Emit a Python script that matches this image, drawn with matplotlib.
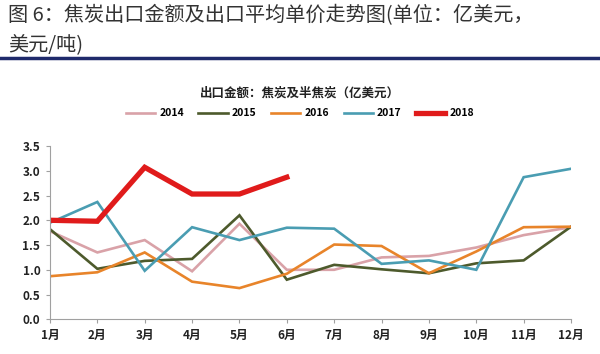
import numpy as np
import matplotlib.pyplot as plt

plt.rcParams['font.family'] = ['Noto Sans CJK SC', 'DejaVu Sans']

months = ["1月", "2月", "3月", "4月", "5月", "6月", "7月", "8月", "9月", "10月", "11月", "12月"]
v2014 = [1.78, 1.35, 1.60, 0.97, 1.93, 1.00, 1.00, 1.25, 1.28, 1.45, 1.70, 1.86]
v2015 = [1.82, 1.02, 1.18, 1.22, 2.10, 0.80, 1.10, 1.01, 0.93, 1.13, 1.19, 1.87]
v2016 = [0.87, 0.95, 1.35, 0.76, 0.63, 0.92, 1.51, 1.48, 0.93, 1.37, 1.86, 1.87]
v2017 = [1.95, 2.37, 0.98, 1.86, 1.60, 1.85, 1.83, 1.12, 1.19, 1.00, 2.87, 3.04]
v2018 = [2.00, 1.98, 3.07, 2.53, 2.53, 2.87]

series = [
	("2014", v2014, "#D9A2A8", 1.9),
	("2015", v2015, "#4D5A2C", 1.9),
	("2016", v2016, "#E8842A", 1.9),
	("2017", v2017, "#4A9DB2", 1.9),
	("2018", v2018, "#E01B1B", 3.8),
]

fig = plt.figure(figsize=(6, 3.54), dpi=100)

# page header
fig.text(0.013, 0.955, "图 6：焦炭出口金额及出口平均单价走势图(单位：亿美元，", fontsize=14.5, color="#333333", va="center")
fig.text(0.013, 0.875, "美元/吨)", fontsize=14.5, color="#333333", va="center")
fig.add_artist(plt.Line2D([0, 1], [0.835, 0.835], color="#1F2A6B", lw=2.5, transform=fig.transFigure))

ax = fig.add_axes([0.0833, 0.098, 0.8684, 0.4896])
x = np.arange(len(months))
for name, vals, col, lw in series:
	ax.plot(x[:len(vals)], vals, color=col, lw=lw, label=name, solid_joinstyle="miter")

ax.set_xlim(0, 11)
ax.set_ylim(0, 3.5)
ax.set_xticks(x)
ax.set_xticklabels(months, fontsize=8.5, fontweight="bold")
ax.set_yticks(np.arange(0, 3.51, 0.5))
ax.set_yticklabels(["%.1f" % v for v in np.arange(0, 3.51, 0.5)], fontsize=8.5, fontweight="bold")
for s in ["top", "right"]:
	ax.spines[s].set_visible(False)
for s in ["left", "bottom"]:
	ax.spines[s].set_color("#A0A0A0")
ax.tick_params(axis="both", colors="#A0A0A0", labelcolor="#222222", length=3, pad=4)

fig.text(0.5, 0.737, "出口金额：焦炭及半焦炭（亿美元）", ha="center", va="center", fontsize=9, fontweight="bold", color="#222222")
fig.legend(loc="center", bbox_to_anchor=(0.5, 0.68), ncol=5, frameon=False,
	handlelength=2.8, columnspacing=1.4, handletextpad=0.4, prop={"weight": "bold", "size": 7.5})

fig.savefig("out.png", dpi=100)
